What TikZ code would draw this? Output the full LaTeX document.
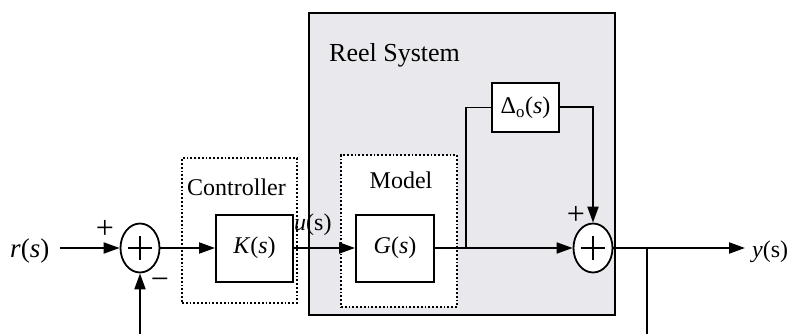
\documentclass[tikz,border=0pt]{standalone}
\usepackage{fontspec}
\setmainfont{Liberation Serif}
\usetikzlibrary{arrows.meta,shapes.geometric}
\definecolor{reelgray}{RGB}{233,233,237}
\begin{document}
\begin{tikzpicture}[x=1pt,y=-1pt,
  every node/.style={font=\fontsize{24}{28}\selectfont},
  blk/.style={draw,line width=2pt,fill=white,inner sep=0pt},
  sig/.style={line width=2pt},
  thinsig/.style={line width=1.5pt},
  arr/.style={sig,-{Triangle[length=16pt,width=11pt]}},
  dotbox/.style={draw,line width=1.8pt,dotted,fill=white,inner sep=0pt},
  lbl/.style={inner sep=0pt},
  sign/.style={inner sep=0pt,font=\fontsize{32}{36}\selectfont},
  sumj/.style={draw,ellipse,line width=1.8pt,fill=white,minimum width=39pt,minimum height=49pt,inner sep=0pt,
    path picture={
      \draw[line width=1.8pt] ([xshift=-12pt]path picture bounding box.center) -- ([xshift=12pt]path picture bounding box.center);
      \draw[line width=1.8pt] ([yshift=-12pt]path picture bounding box.center) -- ([yshift=12pt]path picture bounding box.center);
    }}
]
\useasboundingbox (0,0) rectangle (795,334);

% containers
\node[draw,line width=2pt,fill=reelgray,minimum width=306pt,minimum height=302pt,inner sep=0pt] (reel) at (462,164) {};
\node[lbl,anchor=base west,font=\fontsize{26}{30}\selectfont] (reeltxt) at (329,62) {Reel System};
\node[dotbox,minimum width=116pt,minimum height=152pt] (model) at (399,231) {};
\node[lbl,anchor=base] (modeltxt) at (401,188) {Model};
\node[dotbox,minimum width=115pt,minimum height=145pt] (ctrl) at (239.5,230.5) {};
\node[lbl,anchor=base] (ctrltxt) at (236.5,195) {Controller};

% blocks
\node[blk,minimum width=77pt,minimum height=67pt] (K) at (254.5,248) {\textit{K}(\textit{s})};
\node[blk,minimum width=78pt,minimum height=67pt] (G) at (395,248) {\textit{G}(\textit{s})};
\node[blk,minimum width=67pt,minimum height=49pt] (D) at (525.5,107.5) {Δ\textsubscript{o}(\textit{s})};
\node[sumj] (s1) at (140,248) {};
\node[sumj] (s2) at (593,248) {};

% labels
\node[lbl,anchor=base west,font=\fontsize{27}{30}\selectfont] (rl) at (10,257) {\textit{r}(\textit{s})};
\node[lbl,anchor=base west] (yl) at (752,257) {\textit{y}(s)};
\node[lbl,anchor=base west] (ul) at (294,230) {\textit{u}(s)};
\node[sign] (p1) at (105,229) {+};
\node[sign] (m1) at (160,284) {−};
\node[sign] (p2) at (576,215) {+};

% coordinates
\coordinate (rin) at (60,248);
\coordinate (tap1) at (466,248);
\coordinate (tap2) at (647,248);
\coordinate (yout) at (745,248);
\coordinate (fbR) at (647,334);
\coordinate (fbL) at (140,334);

% connectors
\draw[arr] (rin) -- (s1.west);
\draw[arr] (s1.east) -- (K.west);
\draw[arr] (K.east) -- (G.west);
\draw[arr] (G.east) -- (s2.west);
\draw[thinsig] (tap1) |- (D.west);
\draw[arr] (D.east) -| (s2.north);
\draw[arr] (s2.east) -- (yout);
\draw[thinsig] (tap2) -- (fbR);
\draw[arr] (fbL) -- (s1.south);
\end{tikzpicture}
\end{document}
